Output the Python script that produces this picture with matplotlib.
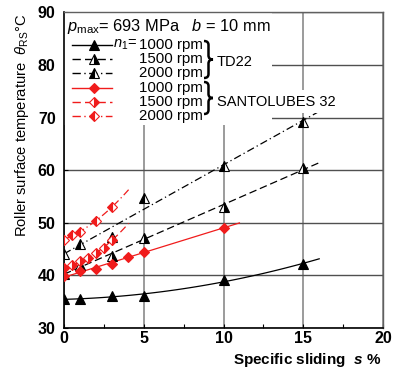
import numpy as np
import matplotlib.pyplot as plt
from matplotlib.transforms import Affine2D
from matplotlib.path import Path
from matplotlib.patches import PathPatch, Rectangle
from matplotlib.font_manager import FontProperties

plt.rcParams['font.family'] = ['Liberation Sans', 'DejaVu Sans']
plt.rcParams['mathtext.fontset'] = 'custom'
plt.rcParams['mathtext.rm'] = 'Liberation Sans'
plt.rcParams['mathtext.it'] = 'Liberation Sans:italic'
plt.rcParams['mathtext.bf'] = 'Liberation Sans:bold'
try:
    plt.rcParams['mathtext.bfit'] = 'Liberation Sans:bold:italic'
except KeyError:
    pass

# roller surface temperature vs specific sliding
s_td22 = [0, 1, 3, 5, 10, 15]
td22_1000 = [35.5, 35.6, 36.0, 36.1, 39.1, 42.2]
td22_1500 = [40.2, 42.0, 43.6, 47.2, 53.0, 60.4]
td22_2000 = [44.0, 45.9, 47.4, 54.8, 60.9, 69.2]

s_sl_1000 = [0, 1, 2, 3, 4, 5, 10]
sl_1000 = [39.9, 40.8, 41.2, 42.1, 43.5, 44.5, 49.1]
s_sl_1500 = [0, 0.5, 1, 1.5, 2, 2.5, 3]
sl_1500 = [41.4, 42.0, 42.7, 43.3, 44.2, 45.2, 46.8]
s_sl_2000 = [0, 0.5, 1, 2, 3]
sl_2000 = [46.8, 47.6, 48.3, 50.4, 53.0]

speeds = ['1000 rpm', '1500 rpm', '2000 rpm']
oils = ['TD22', 'SANTOLUBES 32']

RED = '#f01c1c'
dash = (0, (6, 3))
dashdot = (0, (6, 2.5, 1, 2.5))

# (s, T, colour, marker, fillstyle, linestyle, fit degree, end of trend line)
series = [
    (s_td22, td22_1000, 'black', '^', 'full', '-', 2, 16),
    (s_td22, td22_1500, 'black', '^', 'right', dash, 1, 16),
    (s_td22, td22_2000, 'black', '^', 'left', dashdot, 1, 16),
    (s_sl_1000, sl_1000, RED, 'D', 'full', '-', 1, 11),
    (s_sl_1500, sl_1500, RED, 'D', 'right', dash, 2, 4.05),
    (s_sl_2000, sl_2000, RED, 'D', 'left', dashdot, 2, 4.05),
]

bold_font = ['Liberation Sans Narrow', 'Liberation Sans']

W, H = 395, 369
fig = plt.figure(figsize=(W / 100, H / 100), dpi=100)
ax = fig.add_axes([64 / W, 41 / H, 319 / W, 315.5 / H])
px = Affine2D().scale(1 / W, -1 / H).translate(0, 1) + fig.transFigure

ax.set_xlim(0, 20)
ax.set_ylim(30, 90)
ax.set_xticks([0, 5, 10, 15, 20])
ax.set_yticks([30, 40, 50, 60, 70, 80, 90])
ax.set_xticks([2.5, 7.5, 12.5, 17.5], minor=True)
ax.xaxis.grid(True, color='#8a8a8a', lw=1.2, zorder=0)
ax.yaxis.grid(True, color='#505050', lw=1.0, zorder=0)
ax.set_axisbelow(True)
ax.tick_params(direction='in', length=3, width=0.8, colors='black')
ax.tick_params(axis='x', pad=2)
ax.tick_params(axis='y', pad=6)
ax.tick_params(axis='x', which='minor', direction='in', length=3, width=0.8)
for lbl in ax.get_xticklabels() + ax.get_yticklabels():
    lbl.set_fontproperties(FontProperties(family=bold_font, weight='bold', size=11.5))
for side in ['left', 'bottom']:
    ax.spines[side].set_linewidth(1.2)
for side in ['top', 'right']:
    ax.spines[side].set_color('#606060')
    ax.spines[side].set_linewidth(1.0)

def marker_style(color, marker, fill):
    ms = 7 if marker == '^' else 5.5
    return dict(marker=marker, ms=ms, fillstyle=fill, mfc=color, mfcalt='white',
                mec=color, mew=0.8)

for s, T, color, marker, fill, ls, deg, s_end in series:
    coef = np.polyfit(s, T, deg)
    xs = np.linspace(0, s_end, 60)
    ax.plot(xs, np.polyval(coef, xs), color=color, ls=ls, lw=0.9, zorder=3)
    ax.plot(s, T, ls='none', zorder=4, **marker_style(color, marker, fill))

# white panel behind the key
ax.add_patch(Rectangle((64, 12), 208, 113, transform=px, fc='white', ec='none', zorder=2))

fig.text(67, 27, r'$p_{\rm max}$= 693 MPa   $b$ = 10 mm', transform=px,
         fontsize=11.8, va='center', ha='left')

rows = [45, 59, 73, 88, 102, 116]
for i, (s, T, color, marker, fill, ls, deg, s_end) in enumerate(series):
    y = rows[i]
    fig.add_artist(plt.Line2D([72, 112], [y, y], transform=px, color=color, ls=ls, lw=1.0))
    fig.add_artist(plt.Line2D([94], [y], transform=px, ls='none', **marker_style(color, marker, fill)))
    fig.text(203, y, speeds[i % 3], transform=px, fontsize=10.8, va='center', ha='right')
fig.text(113, rows[0], r'$n_1$=', transform=px, fontsize=10.5, va='center', ha='left')

def brace(x, y0, y1, w, r=4):
    h = w / 2
    ym = (y0 + y1) / 2
    verts = [(x, y0), (x + h, y0), (x + h, y0 + r), (x + h, ym - r), (x + h, ym), (x + w, ym),
             (x + h, ym), (x + h, ym + r), (x + h, y1 - r), (x + h, y1), (x, y1)]
    codes = [Path.MOVETO, Path.CURVE3, Path.CURVE3, Path.LINETO, Path.CURVE3, Path.CURVE3,
             Path.CURVE3, Path.CURVE3, Path.LINETO, Path.CURVE3, Path.CURVE3]
    fig.add_artist(PathPatch(Path(verts, codes), transform=px, fc='none', ec='black', lw=1.8))

brace(204, 41, 78, 9)
brace(204, 82, 114, 9)
fig.text(217, 61.5, oils[0], transform=px, fontsize=10.5, va='center', ha='left')
fig.text(217, 101.5, oils[1], transform=px, fontsize=10.5, va='center', ha='left',
         bbox=dict(fc='white', ec='none', pad=3))

fig.text(22, 13, r'Roller surface temperature  $\theta_{\rm RS}$°C', transform=px,
         rotation=90, fontsize=10.6, va='top', ha='center')
fig.text(381, 360, r'Specific sliding  $\mathbfit{s}$ %', transform=px,
         fontproperties=FontProperties(family=bold_font, weight='bold', size=11),
         va='center', ha='right')

fig.savefig('out.png', dpi=100)
